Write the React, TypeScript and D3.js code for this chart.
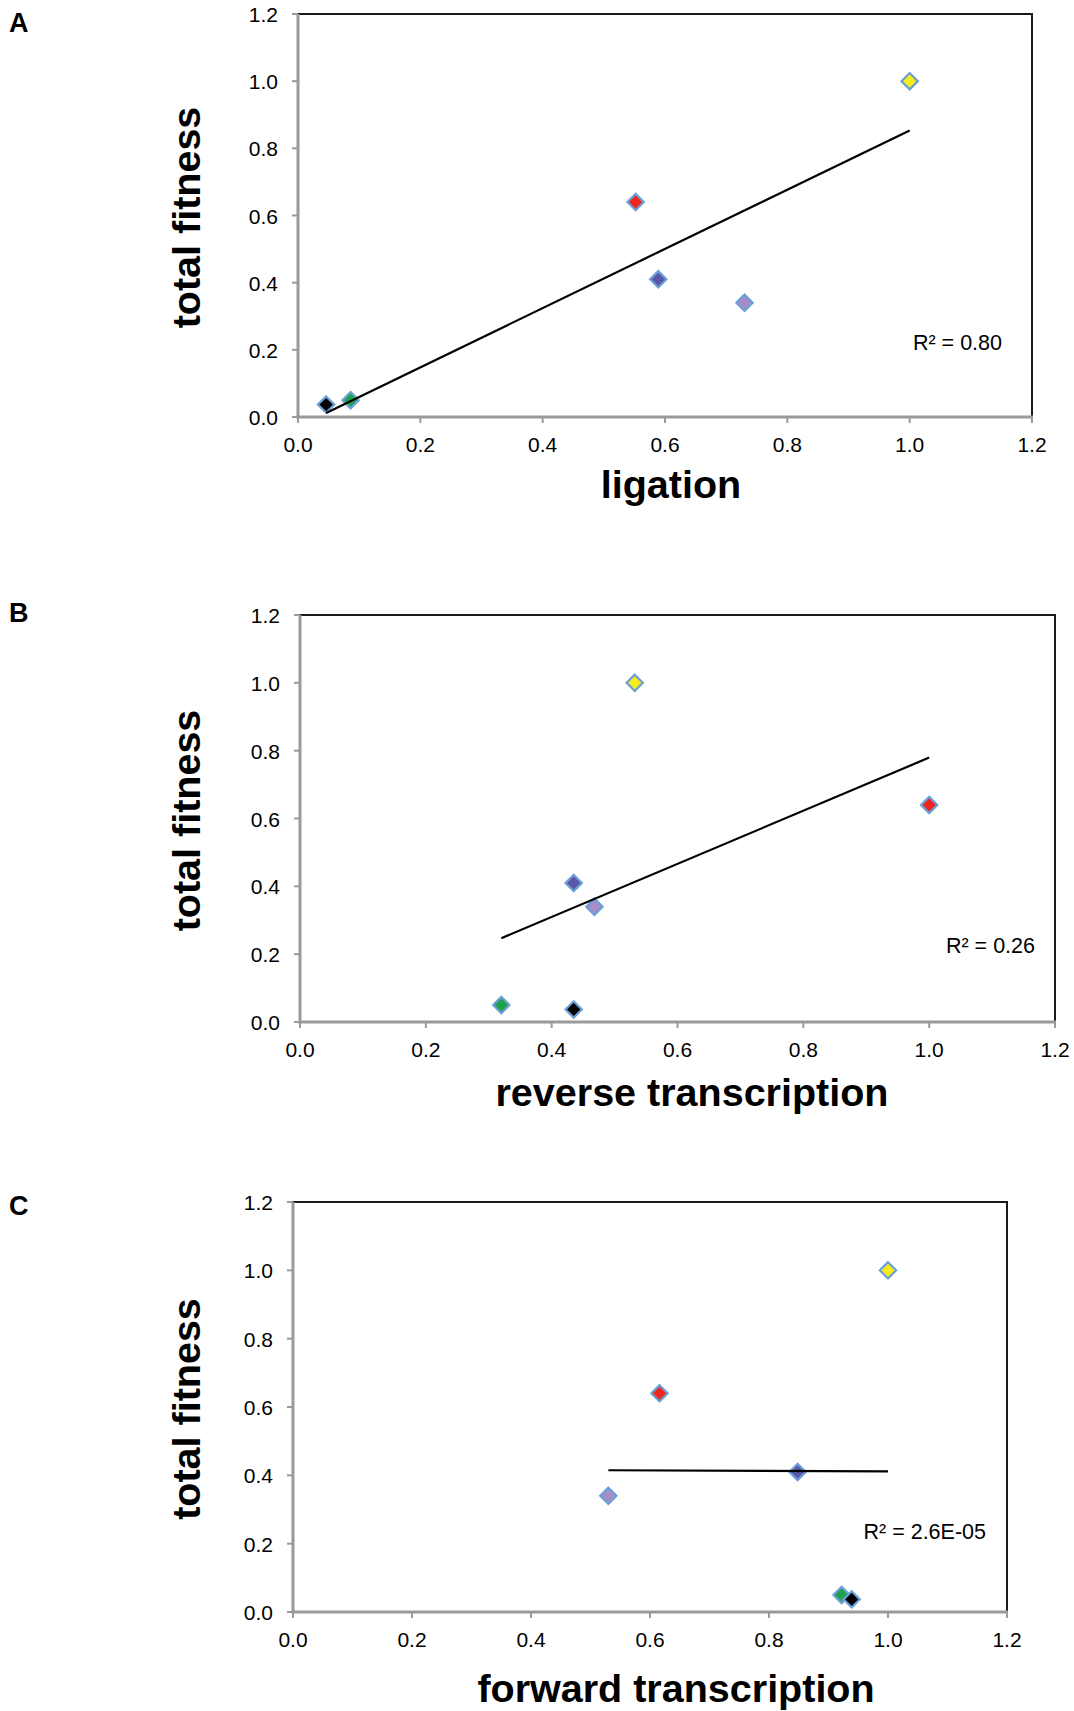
import React from "react";
import * as d3 from "d3";

// ---- data ----
const constructs = ["lavender", "blue", "red", "yellow", "green", "black"];
const fillColors = ["#a68dc6", "#5b56a8", "#f0261e", "#f4ec1d", "#22a04b", "#000000"];
const totalFitness = [0.34, 0.41, 0.64, 1.0, 0.05, 0.037];
const ligation = [0.73, 0.589, 0.552, 1.0, 0.086, 0.046];
const reverseTranscription = [0.468, 0.435, 1.0, 0.532, 0.32, 0.435];
const forwardTranscription = [0.53, 0.848, 0.616, 1.0, 0.922, 0.939];
const r2Labels = ["R² = 0.80", "R² = 0.26", "R² = 2.6E-05"];
const xTitles = ["ligation", "reverse transcription", "forward transcription"];
const panelLetters = ["A", "B", "C"];
const tickValues = [0, 0.2, 0.4, 0.6, 0.8, 1.0, 1.2];

const xSeries = [ligation, reverseTranscription, forwardTranscription];

// ---- layout ----
const layouts = [
  { left: 298, right: 1032, top: 14, bottom: 417, letterY: 31.5, xTitleX: 671, xTitleY: 498, r2X: 1002, r2Y: 350 },
  { left: 300, right: 1055, top: 615, bottom: 1022, letterY: 622, xTitleX: 692, xTitleY: 1106, r2X: 1035, r2Y: 953 },
  { left: 293, right: 1007, top: 1202, bottom: 1612, letterY: 1215, xTitleX: 676, xTitleY: 1702, r2X: 986, r2Y: 1539 },
];

const FONT = "'Liberation Sans', Arial, Helvetica, sans-serif";
const fmt = d3.format(".1f");

function regression(xs: number[], ys: number[]) {
  const mx = d3.mean(xs) as number;
  const my = d3.mean(ys) as number;
  let sxy = 0, sxx = 0;
  xs.forEach((x, i) => {
    sxy += (x - mx) * (ys[i] - my);
    sxx += (x - mx) * (x - mx);
  });
  const slope = sxy / sxx;
  const intercept = my - slope * mx;
  const [x0, x1] = d3.extent(xs) as [number, number];
  return [
    [x0, intercept + slope * x0],
    [x1, intercept + slope * x1],
  ];
}

function Panel({ idx }: { idx: number }) {
  const L = layouts[idx];
  const xs = xSeries[idx];
  const x = d3.scaleLinear().domain([0, 1.2]).range([L.left, L.right]);
  const y = d3.scaleLinear().domain([0, 1.2]).range([L.bottom, L.top]);
  const trend = regression(xs, totalFitness);
  const line = d3.line<number[]>().x((d) => x(d[0])).y((d) => y(d[1]));
  const diamond = d3.symbol().type(d3.symbolDiamond2).size(170)();
  const gray = "#9a9a9a";
  const cy = (L.top + L.bottom) / 2;
  return (
    <g>
      <text x={9} y={L.letterY} fontFamily={FONT} fontWeight="bold" fontSize={27} fill="#000">
        {panelLetters[idx]}
      </text>
      {/* frame: top & right black */}
      <line x1={L.left} x2={L.right} y1={L.top} y2={L.top} stroke="#1a1a1a" strokeWidth={2} />
      <line x1={L.right} x2={L.right} y1={L.top - 1} y2={L.bottom} stroke="#1a1a1a" strokeWidth={2} />
      {/* y ticks */}
      {tickValues.map((t) => (
        <g key={"y" + t}>
          <line x1={L.left - 6} x2={L.left} y1={y(t)} y2={y(t)} stroke={gray} strokeWidth={2} />
          <text
            x={L.left - 20}
            y={y(t) + 8}
            textAnchor="end"
            fontFamily={FONT}
            fontSize={21}
            fill="#000"
          >
            {fmt(t)}
          </text>
        </g>
      ))}
      {/* x ticks */}
      {tickValues.map((t) => (
        <g key={"x" + t}>
          <line x1={x(t)} x2={x(t)} y1={L.bottom} y2={L.bottom + 6} stroke={gray} strokeWidth={2} />
          <text x={x(t)} y={L.bottom + 35} textAnchor="middle" fontFamily={FONT} fontSize={21} fill="#000">
            {fmt(t)}
          </text>
        </g>
      ))}
      {/* axes gray */}
      <line x1={L.left} x2={L.left} y1={L.top} y2={L.bottom + 1.5} stroke={gray} strokeWidth={3} />
      <line x1={L.left - 1.5} x2={L.right + 1} y1={L.bottom} y2={L.bottom} stroke={gray} strokeWidth={3} />
      {/* points */}
      {xs.map((v, i) => (
        <path
          key={constructs[i]}
          d={diamond as string}
          transform={`translate(${x(v)},${y(totalFitness[i])})`}
          fill={fillColors[i]}
          stroke="#6a9fd8"
          strokeWidth={2.2}
        />
      ))}
      {/* trendline */}
      <path d={line(trend) as string} fill="none" stroke="#000" strokeWidth={2.2} />
      <text x={L.r2X} y={L.r2Y} textAnchor="end" fontFamily={FONT} fontSize={21.5} fill="#000">
        {r2Labels[idx]}
      </text>
      {/* axis titles */}
      <text
        x={L.xTitleX}
        y={L.xTitleY}
        textAnchor="middle"
        fontFamily={FONT}
        fontWeight="bold"
        fontSize={39.5}
        fill="#000"
      >
        {xTitles[idx]}
      </text>
      <text
        transform={`translate(200,${cy + 2}) rotate(-90)`}
        textAnchor="middle"
        fontFamily={FONT}
        fontWeight="bold"
        fontSize={39.5}
        fill="#000"
      >
        total fitness
      </text>
    </g>
  );
}

export default function App() {
  return (
    <svg
      width={1074}
      height={1711}
      viewBox="0 0 1074 1711"
      style={{ position: "absolute", left: 0, top: 0, background: "#fff" }}
    >
      <rect x={0} y={0} width={1074} height={1711} fill="#fff" />
      {layouts.map((_, i) => (
        <Panel key={i} idx={i} />
      ))}
    </svg>
  );
}
